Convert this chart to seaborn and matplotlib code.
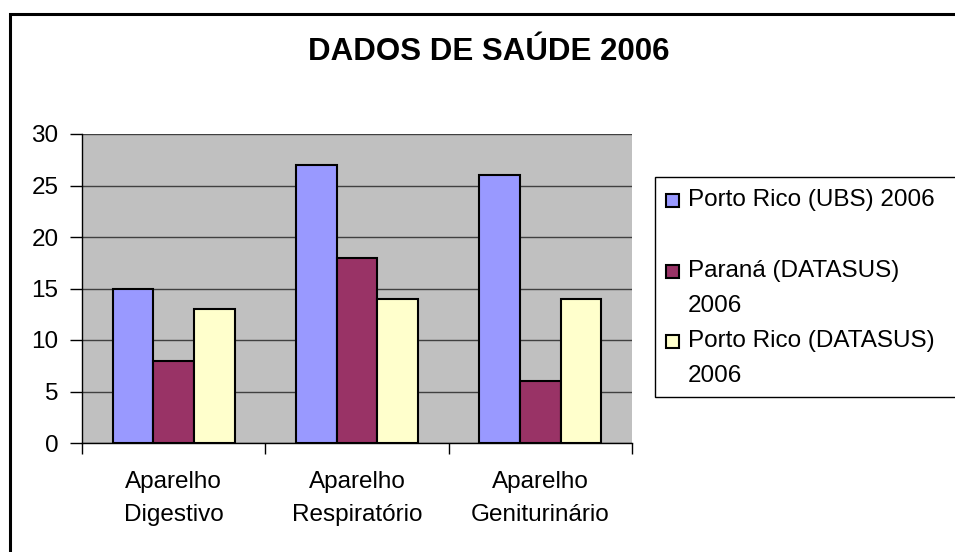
import pandas as pd
import seaborn as sns
import matplotlib.pyplot as plt
from matplotlib.patches import Rectangle

categories = ["Aparelho\nDigestivo", "Aparelho\nRespiratório", "Aparelho\nGeniturinário"]
series = ["Porto Rico (UBS) 2006", "Paraná (DATASUS)\n2006", "Porto Rico (DATASUS)\n2006"]
ubs_pr = [15, 27, 26]
datasus_parana = [8, 18, 6]
datasus_pr = [13, 14, 14]
colors = ["#9999FF", "#993366", "#FFFFCC"]

df = pd.DataFrame({
    "categoria": categories * 3,
    "serie": [series[0]] * 3 + [series[1]] * 3 + [series[2]] * 3,
    "valor": ubs_pr + datasus_parana + datasus_pr,
})

sns.set_theme(style="white")
plt.rcParams["font.family"] = ["Liberation Sans", "DejaVu Sans"]
for k in ["text.color", "axes.labelcolor", "xtick.color", "ytick.color"]:
    plt.rcParams[k] = "black"

W, H = 955, 552
fig = plt.figure(figsize=(W / 100, H / 100), dpi=100)


def fx(x):
    return x / W


def fy(y):
    return 1 - y / H


ax = fig.add_axes([fx(82), fy(443), 550 / W, 309 / H])
ax.set_facecolor("#C0C0C0")

sns.barplot(data=df, x="categoria", y="valor", hue="serie", order=categories,
            hue_order=series, palette=colors, width=0.665, gap=0,
            edgecolor="black", linewidth=1.5, saturation=1, ax=ax, legend=False)

ax.set_ylim(0, 30)
ax.set_xlim(-0.5, 2.5)
ax.set_yticks(range(0, 31, 5))
ax.yaxis.grid(True, color="#404040", linewidth=1)
ax.set_axisbelow(True)
ax.set_xlabel("")
ax.set_ylabel("")
for s in ["top", "right"]:
    ax.spines[s].set_visible(False)
for s in ["left", "bottom"]:
    ax.spines[s].set_color("black")
    ax.spines[s].set_linewidth(1)

ax.tick_params(axis="y", which="major", direction="out", length=9, width=1,
               color="black", labelsize=17.5, pad=8, left=True)
ax.set_xticks([0, 1, 2])
ax.set_xticklabels(categories, fontsize=17.5, linespacing=1.65)
ax.tick_params(axis="x", which="major", length=0, pad=20)
ax.set_xticks([-0.5, 0.5, 1.5, 2.5], minor=True)
ax.tick_params(axis="x", which="minor", direction="out", length=8, width=1,
               color="black", bottom=True)

fig.text(fx(489), fy(52), "DADOS DE SAÚDE 2006", ha="center", va="center",
         fontsize=22.5, fontweight="bold")

# legend box drawn by hand so the markers sit on the first line of each label
fig.patches.append(Rectangle((fx(655), fy(397)), fx(400), 220 / H,
                             transform=fig.transFigure, facecolor="white",
                             edgecolor="black", linewidth=1))
baselines = [206, 277, 347]
for label, color, base in zip(series, colors, baselines):
    fig.patches.append(Rectangle((fx(666), fy(base + 1)), 13 / W, 13 / H,
                                 transform=fig.transFigure, facecolor=color,
                                 edgecolor="black", linewidth=1.5))
    for i, line in enumerate(label.split("\n")):
        fig.text(fx(688), fy(base + 35 * i), line, ha="left", va="baseline",
                 fontsize=17.5)

fig.patches.append(Rectangle((fx(9.5), -0.1), 1.2, 1.1 - 13.5 / H,
                             transform=fig.transFigure, fill=False,
                             edgecolor="black", linewidth=2.2))

fig.savefig("out.png", dpi=100)
